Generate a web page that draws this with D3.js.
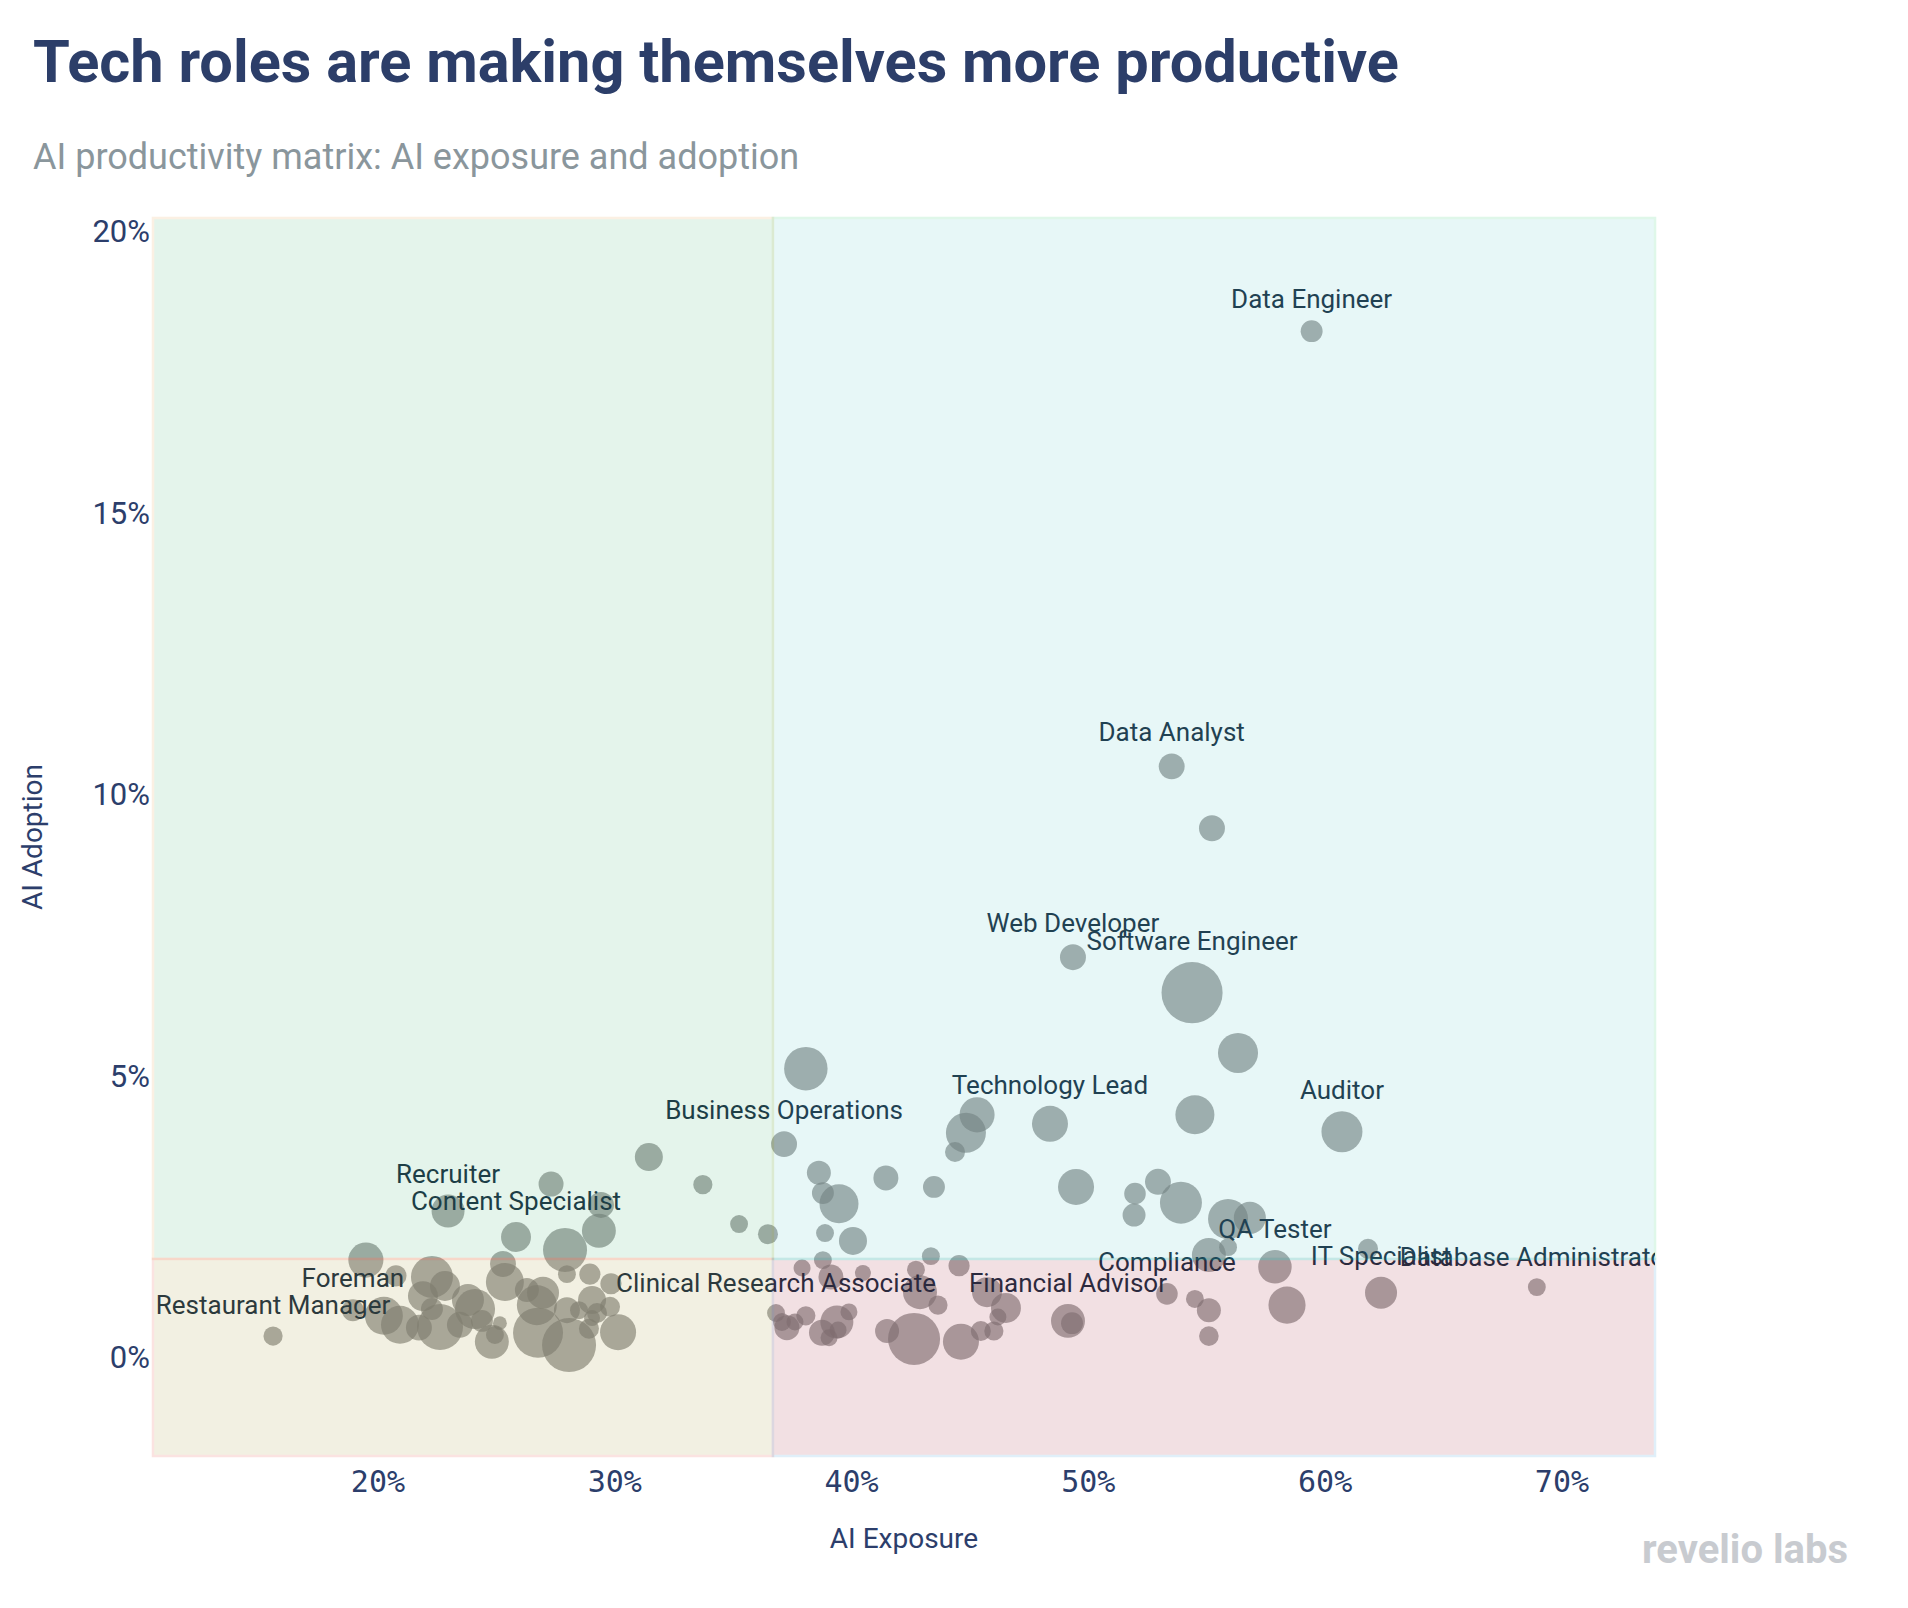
<!DOCTYPE html>
<html>
<head>
<meta charset="utf-8">
<script src="https://cdn.jsdelivr.net/npm/d3@7"></script>
<style>
  html, body { margin: 0; padding: 0; background: #ffffff; }
  svg { display: block; }
</style>
</head>
<body>
<svg id="chart" width="1908" height="1608"></svg>
<script>
// ---------------- DATA ----------------
const roles = [
  "Data Engineer", "Data Analyst", "", "Web Developer", "Software Engineer", "", "Technology Lead", "", "", "",
  "", "Auditor", "", "", "", "", "", "", "", "",
  "", "", "QA Tester", "", "IT Specialist", "", "Database Administrator", "Compliance", "", "",
  "", "Financial Advisor", "", "", "", "", "", "", "", "",
  "", "", "", "", "", "", "", "", "", "",
  "", "", "", "", "", "", "", "", "", "Clinical Research Associate",
  "", "", "", "", "", "", "", "Business Operations", "", "",
  "", "", "", "Recruiter", "Content Specialist", "", "", "", "", "",
  "", "", "", "", "", "", "", "", "", "",
  "", "", "", "", "", "", "", "", "", "",
  "", "", "", "", "", "", "", "", "", "",
  "", "", "", "Restaurant Manager", "Foreman"
];
const exposure = [
  59.43, 53.52, 55.22, 49.35, 54.38, 56.32, 48.38, 45.30, 44.83, 44.37,
  54.50, 60.71, 43.48, 49.48, 51.97, 52.94, 51.93, 53.91, 55.90, 56.82,
  55.09, 55.90, 57.88, 61.81, 62.36, 58.39, 68.94, 53.32, 54.50, 55.09,
  55.09, 49.14, 49.31, 45.72, 46.52, 46.18, 46.01, 45.46, 44.62, 42.64,
  41.50, 42.89, 43.65, 44.54, 43.35, 42.72, 40.48, 39.13, 37.91, 38.79,
  39.89, 39.38, 39.43, 38.75, 39.05, 38.07, 37.61, 37.27, 37.06, 36.81,
  35.25, 36.47, 38.88, 39.47, 40.06, 38.79, 38.62, 37.15, 41.45, 38.07,
  33.72, 31.44, 27.31, 22.96, 25.83, 29.42, 29.33, 27.90, 19.49, 25.28,
  20.76, 22.28, 22.83, 21.90, 25.36, 27.98, 28.95, 29.84, 26.29, 26.97,
  26.71, 23.80, 24.10, 22.28, 27.98, 28.49, 29.04, 29.80, 29.25, 20.25,
  20.93, 21.73, 22.62, 23.46, 24.39, 25.15, 24.81, 24.94, 26.76, 28.07,
  28.91, 30.14, 29.04, 15.57, 18.94
];
const adoption = [
  18.22, 10.49, 9.39, 7.10, 6.47, 5.40, 4.14, 4.30, 3.98, 3.64,
  4.30, 4.00, 3.02, 3.02, 2.90, 3.11, 2.52, 2.74, 2.45, 2.47,
  1.81, 1.95, 1.60, 1.92, 1.14, 0.92, 1.24, 1.12, 1.03, 0.83,
  0.37, 0.64, 0.60, 1.15, 0.87, 0.71, 0.46, 0.46, 0.27, 0.32,
  0.46, 1.15, 0.92, 1.62, 1.79, 1.55, 1.49, 1.42, 1.58, 1.72,
  0.80, 0.62, 0.48, 0.43, 0.34, 0.73, 0.62, 0.52, 0.62, 0.78,
  2.36, 2.18, 2.20, 2.72, 2.06, 2.91, 3.27, 3.78, 3.18, 5.12,
  3.06, 3.55, 3.07, 2.59, 2.13, 2.70, 2.24, 1.90, 1.72, 1.65,
  1.44, 1.42, 1.26, 1.08, 1.33, 1.47, 1.47, 1.30, 1.19, 1.14,
  0.92, 1.01, 0.85, 0.85, 0.83, 0.83, 1.01, 0.89, 0.78, 0.73,
  0.57, 0.52, 0.53, 0.57, 0.64, 0.60, 0.27, 0.39, 0.43, 0.21,
  0.50, 0.44, 0.69, 0.37, 0.83
];
const headcount = [
  30, 42, 42, 42, 233, 100, 81, 77, 100, 25,
  95, 105, 30, 81, 29, 42, 33, 110, 100, 64,
  72, 20, 70, 25, 64, 86, 20, 29, 20, 36,
  24, 72, 30, 56, 56, 18, 23, 25, 81, 169,
  36, 72, 23, 28, 20, 20, 16, 39, 18, 20,
  18, 68, 18, 42, 18, 23, 18, 39, 20, 20,
  20, 25, 20, 95, 49, 30, 36, 42, 39, 118,
  23, 49, 39, 68, 56, 42, 72, 121, 77, 42,
  28, 110, 56, 56, 90, 20, 28, 28, 36, 64,
  100, 64, 100, 30, 42, 20, 49, 25, 25, 90,
  90, 42, 132, 42, 30, 12, 72, 20, 156, 182,
  25, 81, 16, 23, 30
];
const xTickValues = [20, 30, 40, 50, 60, 70];
const yTickValues = [0, 5, 10, 15, 20];
const exposureDomain = [10.5, 73.93];
const adoptionDomain = [-1.76, 20.23];
const exposureThreshold = 36.68;
const adoptionThreshold = 1.74;

const titleText = "Tech roles are making themselves more productive";
const subtitleText = "AI productivity matrix: AI exposure and adoption";
const xTitle = "AI Exposure";
const yTitle = "AI Adoption";
const brand = "revelio labs";

// ---------------- LAYOUT ----------------
const plot = { left: 153, right: 1655, top: 218, bottom: 1456 };

const svg = d3.select("#chart");

const x = d3.scaleLinear().domain(exposureDomain).range([plot.left, plot.right]);
const y = d3.scaleLinear().domain(adoptionDomain).range([plot.bottom, plot.top]);
const r = d3.scaleSqrt().domain([0, 240]).range([0, 31]);

const data = exposure.map((e, i) => ({
  role: roles[i], x: e, y: adoption[i], n: headcount[i]
}));

// clip
svg.append("defs").append("clipPath").attr("id", "plotclip")
  .append("rect")
  .attr("x", plot.left).attr("y", plot.top)
  .attr("width", plot.right - plot.left).attr("height", plot.bottom - plot.top);

// Title + subtitle
svg.append("text")
  .attr("x", 33).attr("y", 82)
  .attr("font-family", "Roboto, sans-serif")
  .attr("font-weight", 700)
  .attr("font-size", 59.5)
  .attr("fill", "#2c3e69")
  .text(titleText);

svg.append("text")
  .attr("x", 33).attr("y", 169)
  .attr("font-family", "Roboto, sans-serif")
  .attr("font-size", 36)
  .attr("fill", "#8a969c")
  .text(subtitleText);

// Bubbles
const g = svg.append("g").attr("clip-path", "url(#plotclip)");
g.selectAll("circle.bubble")
  .data(data)
  .join("circle")
  .attr("class", "bubble")
  .attr("cx", d => x(d.x))
  .attr("cy", d => y(d.y))
  .attr("r", d => r(d.n))
  .attr("fill", "#777777")
  .attr("fill-opacity", 0.64);

// Labels
g.selectAll("text.lbl")
  .data(data.filter(d => d.role))
  .join("text")
  .attr("class", "lbl")
  .attr("x", d => x(d.x))
  .attr("y", d => y(d.y) - r(d.n) - 12)
  .attr("text-anchor", "middle")
  .attr("font-family", "Roboto, sans-serif")
  .attr("font-size", 26)
  .attr("fill", "#14283c")
  .text(d => d.role);

// Quadrant shapes (drawn above, translucent)
const quads = [
  { x0: exposureDomain[0], x1: exposureThreshold, y0: adoptionThreshold, y1: adoptionDomain[1], fill: "#52bc80", line: "#e6a04a" },
  { x0: exposureThreshold, x1: exposureDomain[1], y0: adoptionThreshold, y1: adoptionDomain[1], fill: "#66d0d0", line: "#2ecc71" },
  { x0: exposureDomain[0], x1: exposureThreshold, y0: adoptionDomain[0], y1: adoptionThreshold, fill: "#afa244", line: "#e74c3c" },
  { x0: exposureThreshold, x1: exposureDomain[1], y0: adoptionDomain[0], y1: adoptionThreshold, fill: "#af374b", line: "#3498db" }
];
svg.append("g").selectAll("rect")
  .data(quads)
  .join("rect")
  .attr("x", d => x(d.x0))
  .attr("y", d => y(d.y1))
  .attr("width", d => x(d.x1) - x(d.x0))
  .attr("height", d => y(d.y0) - y(d.y1))
  .attr("fill", d => d.fill)
  .attr("stroke", d => d.line)
  .attr("stroke-width", 2.5)
  .attr("opacity", 0.15);

// Axes tick labels
const navy = "#2c3e6b";
svg.append("g").selectAll("text")
  .data(yTickValues)
  .join("text")
  .attr("x", 150)
  .attr("y", d => y(d))
  .attr("dy", "0.36em")
  .attr("text-anchor", "end")
  .attr("font-family", "Roboto, sans-serif")
  .attr("font-size", 31)
  .attr("fill", navy)
  .text(d => d + "%");

svg.append("g").selectAll("text")
  .data(xTickValues)
  .join("text")
  .attr("x", d => x(d))
  .attr("y", 1492)
  .attr("text-anchor", "middle")
  .attr("font-family", "'DejaVu Sans Mono', monospace")
  .attr("font-size", 30)
  .attr("fill", navy)
  .text(d => d + "%");

// Axis titles
svg.append("text")
  .attr("x", (plot.left + plot.right) / 2)
  .attr("y", 1548)
  .attr("text-anchor", "middle")
  .attr("font-family", "Roboto, sans-serif")
  .attr("font-size", 28)
  .attr("fill", navy)
  .text(xTitle);

svg.append("text")
  .attr("transform", `translate(42,${(plot.top + plot.bottom) / 2}) rotate(-90)`)
  .attr("text-anchor", "middle")
  .attr("font-family", "Roboto, sans-serif")
  .attr("font-size", 28)
  .attr("fill", navy)
  .text(yTitle);

// Brand
svg.append("text")
  .attr("x", 1642).attr("y", 1563)
  .attr("font-family", "Roboto, sans-serif")
  .attr("font-weight", 700)
  .attr("font-size", 40)
  .attr("fill", "#c8cbd0")
  .text(brand);
</script>
</body>
</html>
